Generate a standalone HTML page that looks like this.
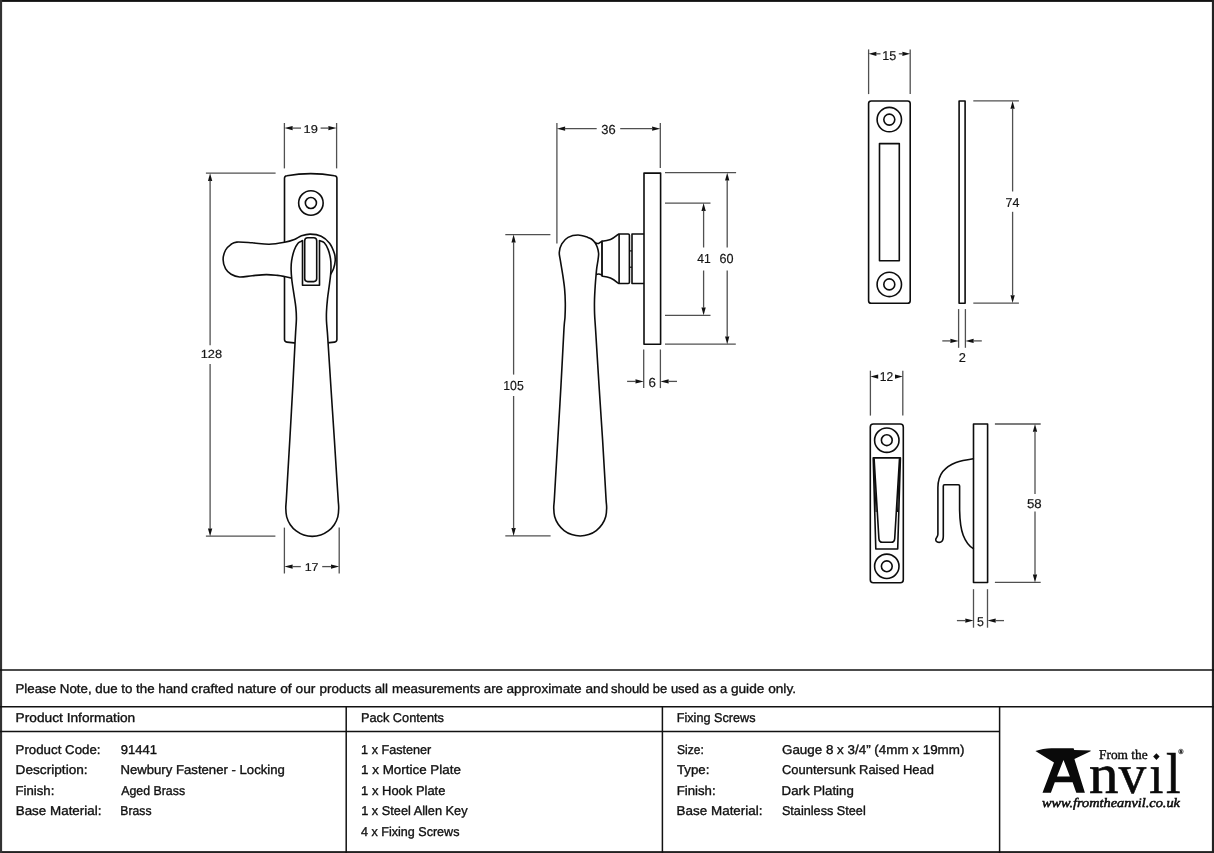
<!DOCTYPE html>
<html>
<head>
<meta charset="utf-8">
<title>Newbury Fastener - Locking</title>
<style>
html,body{margin:0;padding:0;background:#fff;}
body{width:1214px;height:853px;overflow:hidden;font-family:"Liberation Sans",sans-serif;}
svg{display:block;will-change:transform;}
text{white-space:pre;}
</style>
</head>
<body>
<svg width="1214" height="853" viewBox="0 0 1214 853" shape-rendering="geometricPrecision" text-rendering="geometricPrecision">
<rect x="0" y="0" width="1214" height="853" fill="#fff"/>
<rect x="0" y="0" width="1214" height="1.9" fill="#111"/>
<rect x="0" y="851.1" width="1214" height="1.9" fill="#222"/>
<rect x="0" y="0" width="2.1" height="853" fill="#333"/>
<rect x="1211.9" y="0" width="2.1" height="853" fill="#222"/>
<line x1="0" y1="670" x2="1214" y2="670" stroke="#111" stroke-width="1.5"/>
<line x1="0" y1="706.7" x2="1214" y2="706.7" stroke="#111" stroke-width="1.5"/>
<line x1="0" y1="731.4" x2="999.6" y2="731.4" stroke="#111" stroke-width="1.5"/>
<line x1="346.2" y1="706.7" x2="346.2" y2="853" stroke="#111" stroke-width="1.5"/>
<line x1="662.4" y1="706.7" x2="662.4" y2="853" stroke="#111" stroke-width="1.5"/>
<line x1="999.6" y1="706.7" x2="999.6" y2="853" stroke="#111" stroke-width="1.5"/>
<text class="t" x="15.4" y="693.3" textLength="172.56" lengthAdjust="spacingAndGlyphs" font-family="Liberation Sans" font-size="12.8" fill="#101010"  stroke="#101010" stroke-width="0.35">Please Note, due to the hand</text>
<text class="t" x="191.25" y="693.3" textLength="124.17" lengthAdjust="spacingAndGlyphs" font-family="Liberation Sans" font-size="12.8" fill="#101010"  stroke="#101010" stroke-width="0.35">crafted nature of our</text>
<text class="t" x="319.61" y="693.3" textLength="68.44" lengthAdjust="spacingAndGlyphs" font-family="Liberation Sans" font-size="12.8" fill="#101010"  stroke="#101010" stroke-width="0.35">products all</text>
<text class="t" x="392.07" y="693.3" textLength="110.96" lengthAdjust="spacingAndGlyphs" font-family="Liberation Sans" font-size="12.8" fill="#101010"  stroke="#101010" stroke-width="0.35">measurements are</text>
<text class="t" x="506.54" y="693.3" textLength="101.69" lengthAdjust="spacingAndGlyphs" font-family="Liberation Sans" font-size="12.8" fill="#101010"  stroke="#101010" stroke-width="0.35">approximate and</text>
<text class="t" x="610.95" y="693.3" textLength="116.29" lengthAdjust="spacingAndGlyphs" font-family="Liberation Sans" font-size="12.8" fill="#101010"  stroke="#101010" stroke-width="0.35">should be used as a</text>
<text class="t" x="730.91" y="693.3" textLength="65.09" lengthAdjust="spacingAndGlyphs" font-family="Liberation Sans" font-size="12.8" fill="#101010"  stroke="#101010" stroke-width="0.35">guide only.</text>
<text class="t" x="15.63" y="722.4" textLength="119.57" lengthAdjust="spacingAndGlyphs" font-family="Liberation Sans" font-size="12.8" fill="#101010"  stroke="#101010" stroke-width="0.35">Product Information</text>
<text class="t" x="360.89" y="722.4" textLength="83.1" lengthAdjust="spacingAndGlyphs" font-family="Liberation Sans" font-size="12.8" fill="#101010"  stroke="#101010" stroke-width="0.35">Pack Contents</text>
<text class="t" x="676.69" y="722.4" textLength="78.81" lengthAdjust="spacingAndGlyphs" font-family="Liberation Sans" font-size="12.8" fill="#101010"  stroke="#101010" stroke-width="0.35">Fixing Screws</text>
<text class="t" x="15.56" y="753.8" textLength="84.95" lengthAdjust="spacingAndGlyphs" font-family="Liberation Sans" font-size="12.8" fill="#101010"  stroke="#101010" stroke-width="0.35">Product Code:</text>
<text class="t" x="120.73" y="753.8" textLength="36.18" lengthAdjust="spacingAndGlyphs" font-family="Liberation Sans" font-size="12.8" fill="#101010"  stroke="#101010" stroke-width="0.35">91441</text>
<text class="t" x="15.62" y="774.3" textLength="72.06" lengthAdjust="spacingAndGlyphs" font-family="Liberation Sans" font-size="12.8" fill="#101010"  stroke="#101010" stroke-width="0.35">Description:</text>
<text class="t" x="120.44" y="774.3" textLength="164.44" lengthAdjust="spacingAndGlyphs" font-family="Liberation Sans" font-size="12.8" fill="#101010"  stroke="#101010" stroke-width="0.35">Newbury Fastener - Locking</text>
<text class="t" x="15.59" y="794.7" textLength="38.78" lengthAdjust="spacingAndGlyphs" font-family="Liberation Sans" font-size="12.8" fill="#101010"  stroke="#101010" stroke-width="0.35">Finish:</text>
<text class="t" x="121.2" y="794.7" textLength="63.87" lengthAdjust="spacingAndGlyphs" font-family="Liberation Sans" font-size="12.8" fill="#101010"  stroke="#101010" stroke-width="0.35">Aged Brass</text>
<text class="t" x="15.71" y="815.1" textLength="85.73" lengthAdjust="spacingAndGlyphs" font-family="Liberation Sans" font-size="12.8" fill="#101010"  stroke="#101010" stroke-width="0.35">Base Material:</text>
<text class="t" x="120.36" y="815.1" textLength="31.12" lengthAdjust="spacingAndGlyphs" font-family="Liberation Sans" font-size="12.8" fill="#101010"  stroke="#101010" stroke-width="0.35">Brass</text>
<text class="t" x="361.12" y="753.8" textLength="70.15" lengthAdjust="spacingAndGlyphs" font-family="Liberation Sans" font-size="12.8" fill="#101010"  stroke="#101010" stroke-width="0.35">1 x Fastener</text>
<text class="t" x="361.13" y="774.3" textLength="99.71" lengthAdjust="spacingAndGlyphs" font-family="Liberation Sans" font-size="12.8" fill="#101010"  stroke="#101010" stroke-width="0.35">1 x Mortice Plate</text>
<text class="t" x="361.14" y="794.7" textLength="84.32" lengthAdjust="spacingAndGlyphs" font-family="Liberation Sans" font-size="12.8" fill="#101010"  stroke="#101010" stroke-width="0.35">1 x Hook Plate</text>
<text class="t" x="361.16" y="815.1" textLength="106.42" lengthAdjust="spacingAndGlyphs" font-family="Liberation Sans" font-size="12.8" fill="#101010"  stroke="#101010" stroke-width="0.35">1 x Steel Allen Key</text>
<text class="t" x="360.97" y="835.5" textLength="98.51" lengthAdjust="spacingAndGlyphs" font-family="Liberation Sans" font-size="12.8" fill="#101010"  stroke="#101010" stroke-width="0.35">4 x Fixing Screws</text>
<text class="t" x="677.06" y="753.8" textLength="26.84" lengthAdjust="spacingAndGlyphs" font-family="Liberation Sans" font-size="12.8" fill="#101010"  stroke="#101010" stroke-width="0.35">Size:</text>
<text class="t" x="781.98" y="753.8" textLength="182.44" lengthAdjust="spacingAndGlyphs" font-family="Liberation Sans" font-size="12.8" fill="#101010"  stroke="#101010" stroke-width="0.35">Gauge 8 x 3/4&#8221; (4mm x 19mm)</text>
<text class="t" x="676.9" y="774.3" textLength="32.52" lengthAdjust="spacingAndGlyphs" font-family="Liberation Sans" font-size="12.8" fill="#101010"  stroke="#101010" stroke-width="0.35">Type:</text>
<text class="t" x="781.97" y="774.3" textLength="151.96" lengthAdjust="spacingAndGlyphs" font-family="Liberation Sans" font-size="12.8" fill="#101010"  stroke="#101010" stroke-width="0.35">Countersunk Raised Head</text>
<text class="t" x="676.71" y="794.7" textLength="38.94" lengthAdjust="spacingAndGlyphs" font-family="Liberation Sans" font-size="12.8" fill="#101010"  stroke="#101010" stroke-width="0.35">Finish:</text>
<text class="t" x="781.55" y="794.7" textLength="72.26" lengthAdjust="spacingAndGlyphs" font-family="Liberation Sans" font-size="12.8" fill="#101010"  stroke="#101010" stroke-width="0.35">Dark Plating</text>
<text class="t" x="676.61" y="815.1" textLength="85.88" lengthAdjust="spacingAndGlyphs" font-family="Liberation Sans" font-size="12.8" fill="#101010"  stroke="#101010" stroke-width="0.35">Base Material:</text>
<text class="t" x="781.88" y="815.1" textLength="83.87" lengthAdjust="spacingAndGlyphs" font-family="Liberation Sans" font-size="12.8" fill="#101010"  stroke="#101010" stroke-width="0.35">Stainless Steel</text>
<path d="M284.5,178.2 Q284.5,176.0 286.9,175.7 Q310.7,171.6 334.5,175.7 Q336.9,176.0 336.9,178.2 V339.6 Q336.9,341.8 334.5,342.1 Q310.7,345.4 286.9,342.1 Q284.5,341.8 284.5,339.6 Z" fill="#fff" stroke="#0d0d0d" stroke-width="1.6" stroke-linejoin="round" stroke-linecap="round"/>
<circle cx="310.9" cy="203.0" r="12.25" fill="none" stroke="#0d0d0d" stroke-width="1.6" stroke-linejoin="round" stroke-linecap="round"/>
<circle cx="310.9" cy="203.0" r="5.55" fill="none" stroke="#0d0d0d" stroke-width="1.6" stroke-linejoin="round" stroke-linecap="round"/>
<path d="M291.3,278C290.17,277.75 286.8,276.93 284.5,276.5C282.2,276.07 280.53,275.72 277.5,275.4C274.47,275.08 270.52,274.55 266.3,274.6C262.08,274.65 256.65,275.3 252.2,275.7C247.75,276.1 243.12,277.25 239.6,277C236.08,276.75 233.45,275.6 231.1,274.2C228.75,272.8 226.83,271.07 225.5,268.6C224.17,266.13 223.08,262.5 223.1,259.4C223.12,256.3 224.32,252.47 225.6,250C226.88,247.53 228.95,245.92 230.8,244.6C232.65,243.28 233.13,242.4 236.7,242.1C240.27,241.8 246.8,242.45 252.2,242.8C257.6,243.15 263.7,244.3 269.1,244.2C274.5,244.1 280.38,243 284.6,242.2C288.82,241.4 291.58,240.47 294.4,239.4C297.22,238.33 298.87,236.68 301.5,235.8C304.13,234.92 306.92,234.03 310.2,234.1C313.48,234.17 317.97,234.68 321.2,236.2C324.43,237.72 327.38,240.27 329.6,243.2C331.82,246.13 333.57,250.87 334.5,253.8C335.43,256.73 335.35,258.33 335.2,260.8C335.05,263.27 334.35,266.37 333.6,268.6C332.85,270.83 331.18,273.27 330.7,274.2Z" fill="#fff" stroke="none"/>
<path d="M291.3,278C290.17,277.75 286.8,276.93 284.5,276.5C282.2,276.07 280.53,275.72 277.5,275.4C274.47,275.08 270.52,274.55 266.3,274.6C262.08,274.65 256.65,275.3 252.2,275.7C247.75,276.1 243.12,277.25 239.6,277C236.08,276.75 233.45,275.6 231.1,274.2C228.75,272.8 226.83,271.07 225.5,268.6C224.17,266.13 223.08,262.5 223.1,259.4C223.12,256.3 224.32,252.47 225.6,250C226.88,247.53 228.95,245.92 230.8,244.6C232.65,243.28 233.13,242.4 236.7,242.1C240.27,241.8 246.8,242.45 252.2,242.8C257.6,243.15 263.7,244.3 269.1,244.2C274.5,244.1 280.38,243 284.6,242.2C288.82,241.4 291.58,240.47 294.4,239.4C297.22,238.33 298.87,236.68 301.5,235.8C304.13,234.92 306.92,234.03 310.2,234.1C313.48,234.17 317.97,234.68 321.2,236.2C324.43,237.72 327.38,240.27 329.6,243.2C331.82,246.13 333.57,250.87 334.5,253.8C335.43,256.73 335.35,258.33 335.2,260.8C335.05,263.27 334.35,266.37 333.6,268.6C332.85,270.83 331.18,273.27 330.7,274.2" fill="none" stroke="#0d0d0d" stroke-width="1.6" stroke-linejoin="round" stroke-linecap="round"/>
<path d="M302.3,240.8C301.58,241.2 299.35,241.62 298,243.2C296.65,244.78 295.27,247.37 294.2,250.3C293.13,253.23 292.12,257.63 291.6,260.8C291.08,263.97 291.05,266.02 291.1,269.3C291.15,272.58 291.42,276.28 291.9,280.5C292.38,284.72 293.35,290.15 294,294.6C294.65,299.05 295.4,303.22 295.8,307.2C296.2,311.18 296.43,314.27 296.4,318.5C296.37,322.73 295.83,328.43 295.6,332.6C295.37,336.77 295.5,333.93 295,343.5C294.5,353.07 293.47,373.92 292.6,390C291.73,406.08 290.66,425 289.8,440C288.94,455 288.03,470 287.45,480C286.87,490 286.58,495.28 286.3,500C286.02,504.72 285.73,505.51 285.8,508.33C285.86,511.14 285.94,514.15 286.69,516.88C287.43,519.61 288.69,522.36 290.27,524.7C291.85,527.05 293.92,529.25 296.17,530.96C298.42,532.68 301.08,534.1 303.76,535C306.44,535.91 309.42,536.4 312.25,536.4C315.08,536.4 318.06,535.91 320.74,535C323.42,534.1 326.08,532.68 328.33,530.96C330.58,529.25 332.65,527.05 334.23,524.7C335.81,522.36 337.07,519.61 337.81,516.88C338.56,514.15 338.64,511.14 338.7,508.33C338.77,505.51 338.5,504.72 338.2,500C337.9,495.28 337.53,490 336.9,480C336.27,470 335.37,455 334.4,440C333.43,425 332.15,406.13 331.1,390C330.05,373.87 328.72,352.77 328.1,343.2C327.48,333.63 327.67,336.25 327.4,332.6C327.13,328.95 326.65,324.82 326.5,321.3C326.35,317.78 326.33,315.25 326.5,311.5C326.67,307.75 327.05,303.03 327.5,298.8C327.95,294.57 328.68,290.08 329.2,286.1C329.72,282.12 330.3,278.18 330.6,274.9C330.9,271.62 331.02,269.1 331,266.4C330.98,263.7 330.97,261.5 330.5,258.7C330.03,255.9 329.23,252.25 328.2,249.6C327.17,246.95 325.72,244.27 324.3,242.8C322.88,241.33 320.47,241.13 319.7,240.8Z" fill="#fff" stroke="none"/>
<path d="M302.3,240.8C301.58,241.2 299.35,241.62 298,243.2C296.65,244.78 295.27,247.37 294.2,250.3C293.13,253.23 292.12,257.63 291.6,260.8C291.08,263.97 291.05,266.02 291.1,269.3C291.15,272.58 291.42,276.28 291.9,280.5C292.38,284.72 293.35,290.15 294,294.6C294.65,299.05 295.4,303.22 295.8,307.2C296.2,311.18 296.43,314.27 296.4,318.5C296.37,322.73 295.83,328.43 295.6,332.6C295.37,336.77 295.5,333.93 295,343.5C294.5,353.07 293.47,373.92 292.6,390C291.73,406.08 290.66,425 289.8,440C288.94,455 288.03,470 287.45,480C286.87,490 286.58,495.28 286.3,500C286.02,504.72 285.73,505.51 285.8,508.33C285.86,511.14 285.94,514.15 286.69,516.88C287.43,519.61 288.69,522.36 290.27,524.7C291.85,527.05 293.92,529.25 296.17,530.96C298.42,532.68 301.08,534.1 303.76,535C306.44,535.91 309.42,536.4 312.25,536.4C315.08,536.4 318.06,535.91 320.74,535C323.42,534.1 326.08,532.68 328.33,530.96C330.58,529.25 332.65,527.05 334.23,524.7C335.81,522.36 337.07,519.61 337.81,516.88C338.56,514.15 338.64,511.14 338.7,508.33C338.77,505.51 338.5,504.72 338.2,500C337.9,495.28 337.53,490 336.9,480C336.27,470 335.37,455 334.4,440C333.43,425 332.15,406.13 331.1,390C330.05,373.87 328.72,352.77 328.1,343.2C327.48,333.63 327.67,336.25 327.4,332.6C327.13,328.95 326.65,324.82 326.5,321.3C326.35,317.78 326.33,315.25 326.5,311.5C326.67,307.75 327.05,303.03 327.5,298.8C327.95,294.57 328.68,290.08 329.2,286.1C329.72,282.12 330.3,278.18 330.6,274.9C330.9,271.62 331.02,269.1 331,266.4C330.98,263.7 330.97,261.5 330.5,258.7C330.03,255.9 329.23,252.25 328.2,249.6C327.17,246.95 325.72,244.27 324.3,242.8C322.88,241.33 320.47,241.13 319.7,240.8" fill="none" stroke="#0d0d0d" stroke-width="1.6" stroke-linejoin="round" stroke-linecap="round"/>
<path d="M302.5,240.6 V285.2 H319.5 V240.6" fill="none" stroke="#0d0d0d" stroke-width="1.6" stroke-linejoin="round" stroke-linecap="round"/>
<rect x="304.7" y="237.7" width="12.0" height="43.9" rx="3" ry="3" fill="none" stroke="#0d0d0d" stroke-width="1.6" stroke-linejoin="round" stroke-linecap="round"/>
<line x1="284.4" y1="123" x2="284.4" y2="168.4" stroke="#505050" stroke-width="1.3"/>
<line x1="336.6" y1="123" x2="336.6" y2="168.4" stroke="#505050" stroke-width="1.3"/>
<polygon points="284.4,128.1 292.6,125.95 292.6,130.25" fill="#111"/>
<polygon points="336.6,128.1 328.4,130.25 328.4,125.95" fill="#111"/>
<line x1="292.1" y1="128.1" x2="301" y2="128.1" stroke="#505050" stroke-width="1.3"/>
<line x1="320.6" y1="128.1" x2="328.9" y2="128.1" stroke="#505050" stroke-width="1.3"/>
<text class="t" x="303.51" y="133.1" textLength="14.28" lengthAdjust="spacingAndGlyphs" font-family="Liberation Sans" font-size="11.4" fill="#151515"  stroke="#151515" stroke-width="0.18">19</text>
<line x1="284.4" y1="527.6" x2="284.4" y2="573.5" stroke="#505050" stroke-width="1.3"/>
<line x1="339.2" y1="527.6" x2="339.2" y2="573.5" stroke="#505050" stroke-width="1.3"/>
<polygon points="284.4,566.6 292.6,564.45 292.6,568.75" fill="#111"/>
<polygon points="339.2,566.6 331,568.75 331,564.45" fill="#111"/>
<line x1="292.1" y1="566.6" x2="300.8" y2="566.6" stroke="#505050" stroke-width="1.3"/>
<line x1="322.2" y1="566.6" x2="331.5" y2="566.6" stroke="#505050" stroke-width="1.3"/>
<text class="t" x="304.7" y="570.9" textLength="13.83" lengthAdjust="spacingAndGlyphs" font-family="Liberation Sans" font-size="11.4" fill="#151515"  stroke="#151515" stroke-width="0.18">17</text>
<line x1="205.9" y1="173.2" x2="275.6" y2="173.2" stroke="#505050" stroke-width="1.3"/>
<line x1="205.9" y1="536.2" x2="275.4" y2="536.2" stroke="#505050" stroke-width="1.3"/>
<polygon points="210.1,173.2 212.25,181 207.95,181" fill="#111"/>
<polygon points="210.1,536.2 207.95,528.4 212.25,528.4" fill="#111"/>
<line x1="210.1" y1="180.5" x2="210.1" y2="345.3" stroke="#505050" stroke-width="1.3"/>
<line x1="210.1" y1="363.9" x2="210.1" y2="528.9" stroke="#505050" stroke-width="1.3"/>
<text class="t" x="200.67" y="358.2" textLength="21.4" lengthAdjust="spacingAndGlyphs" font-family="Liberation Sans" font-size="11.7" fill="#151515"  stroke="#151515" stroke-width="0.18">128</text>
<path d="M594.9,242.5 Q597.0,243.9 598.7,243.4 L602.1,241.2 V275.9 L601.4,274.9 Q598.7,273.2 596.1,274.5 Z" fill="#fff" stroke="#0d0d0d" stroke-width="1.6" stroke-linejoin="round" stroke-linecap="round"/>
<path d="M578,235C574.72,235 570.8,235.93 568.1,237.4C565.4,238.87 563.27,241.33 561.8,243.8C560.33,246.27 559.53,249.38 559.3,252.2C559.07,255.02 559.87,257.18 560.4,260.7C560.93,264.22 561.8,268.62 562.5,273.3C563.2,277.98 564.13,283.87 564.6,288.8C565.07,293.73 565.23,298.2 565.3,302.9C565.37,307.6 565.23,312.48 565,317C564.77,321.52 564.57,318.67 563.9,330C563.23,341.33 562.02,366.67 561,385C559.98,403.33 558.72,424.17 557.8,440C556.88,455.83 556.03,470 555.45,480C554.87,490 554.58,495.35 554.3,500C554.02,504.65 553.69,505.18 553.75,507.93C553.8,510.68 553.89,513.75 554.64,516.48C555.38,519.21 556.64,521.96 558.22,524.3C559.8,526.65 561.87,528.85 564.12,530.56C566.37,532.28 569.03,533.7 571.71,534.6C574.39,535.51 577.37,536 580.2,536C583.03,536 586.01,535.51 588.69,534.6C591.37,533.7 594.03,532.28 596.28,530.56C598.53,528.85 600.6,526.65 602.18,524.3C603.76,521.96 605.02,519.21 605.76,516.48C606.51,513.75 606.6,510.68 606.65,507.93C606.71,505.18 606.38,504.65 606.1,500C605.82,495.35 605.53,490 604.95,480C604.37,470 603.59,455.83 602.6,440C601.61,424.17 600.17,403.33 599,385C597.83,366.67 596.33,341.82 595.6,330C594.87,318.18 594.78,319.08 594.6,314.1C594.42,309.12 594.4,304.78 594.5,300.1C594.6,295.42 594.93,290.27 595.2,286C595.47,281.73 595.83,277.55 596.1,274.5C596.37,271.45 596.47,270.23 596.8,267.7C597.13,265.17 597.8,261.72 598.1,259.3C598.4,256.88 598.75,255.23 598.6,253.2C598.45,251.17 597.82,248.88 597.2,247.1C596.58,245.32 595.87,243.85 594.9,242.5C593.93,241.15 592.58,239.85 591.4,239C590.22,238.15 590.03,238.07 587.8,237.4C585.57,236.73 581.28,235 578,235Z" fill="#fff" stroke="#0d0d0d" stroke-width="1.6" stroke-linejoin="round" stroke-linecap="round"/>
<path d="M602.1,241.2 C605,240.9 607.9,240.4 610.5,239.4 C613.6,238.2 616,236 617.8,234.6 L618.9,234.0 H628.2 Q629.4,234.0 629.4,235.2 V282.3 Q629.4,283.5 628.2,283.5 H618.9 L617.8,282.9 C616,281.4 613.6,279.3 610.5,278.0 C607.9,277.0 605,276.5 602.9,276.2 L602.1,275.7 Z" fill="#fff" stroke="#0d0d0d" stroke-width="1.6" stroke-linejoin="round" stroke-linecap="round"/>
<line x1="619.1" y1="234" x2="619.1" y2="283.5" stroke="#0d0d0d" stroke-width="1.6"/>
<path d="M644.0,234.0 H632.0 V283.5 H644.0" fill="#fff" stroke="#0d0d0d" stroke-width="1.6" stroke-linejoin="round" stroke-linecap="round"/>
<rect x="644.0" y="173.1" width="16.6" height="171.2" fill="#fff" stroke="#0d0d0d" stroke-width="1.6" stroke-linejoin="round" stroke-linecap="round"/>
<line x1="629.4" y1="250.9" x2="632" y2="250.9" stroke="#0d0d0d" stroke-width="1.2"/>
<line x1="629.4" y1="267.2" x2="632" y2="267.2" stroke="#0d0d0d" stroke-width="1.2"/>
<line x1="556.9" y1="123" x2="556.9" y2="243.4" stroke="#505050" stroke-width="1.3"/>
<line x1="660.3" y1="123" x2="660.3" y2="168" stroke="#505050" stroke-width="1.3"/>
<polygon points="556.9,128.7 565.1,126.55 565.1,130.85" fill="#111"/>
<polygon points="660.3,128.7 652.1,130.85 652.1,126.55" fill="#111"/>
<line x1="564.6" y1="128.7" x2="596.7" y2="128.7" stroke="#505050" stroke-width="1.3"/>
<line x1="620.2" y1="128.7" x2="652.6" y2="128.7" stroke="#505050" stroke-width="1.3"/>
<text class="t" x="601.32" y="133.8" textLength="14.41" lengthAdjust="spacingAndGlyphs" font-family="Liberation Sans" font-size="13.1" fill="#151515"  stroke="#151515" stroke-width="0.18">36</text>
<line x1="505.3" y1="234.6" x2="550.4" y2="234.6" stroke="#505050" stroke-width="1.3"/>
<line x1="505.3" y1="535.9" x2="550.6" y2="535.9" stroke="#505050" stroke-width="1.3"/>
<polygon points="513.6,234.6 515.75,242.4 511.45,242.4" fill="#111"/>
<polygon points="513.6,535.9 511.45,528.1 515.75,528.1" fill="#111"/>
<line x1="513.6" y1="241.9" x2="513.6" y2="374.6" stroke="#505050" stroke-width="1.3"/>
<line x1="513.6" y1="396" x2="513.6" y2="528.6" stroke="#505050" stroke-width="1.3"/>
<text class="t" x="503.29" y="389.7" textLength="20.5" lengthAdjust="spacingAndGlyphs" font-family="Liberation Sans" font-size="13.1" fill="#151515"  stroke="#151515" stroke-width="0.18">105</text>
<line x1="665" y1="172.7" x2="736.1" y2="172.7" stroke="#505050" stroke-width="1.3"/>
<line x1="665" y1="344.2" x2="735.8" y2="344.2" stroke="#505050" stroke-width="1.3"/>
<line x1="665" y1="203.1" x2="710.5" y2="203.1" stroke="#505050" stroke-width="1.3"/>
<line x1="665" y1="315.3" x2="710.5" y2="315.3" stroke="#505050" stroke-width="1.3"/>
<polygon points="703.6,203.1 705.75,210.9 701.45,210.9" fill="#111"/>
<polygon points="703.6,315.3 701.45,307.5 705.75,307.5" fill="#111"/>
<line x1="703.6" y1="210.4" x2="703.6" y2="247.5" stroke="#505050" stroke-width="1.3"/>
<line x1="703.6" y1="270.5" x2="703.6" y2="308" stroke="#505050" stroke-width="1.3"/>
<polygon points="727.2,172.7 729.35,180.5 725.05,180.5" fill="#111"/>
<polygon points="727.2,344.2 725.05,336.4 729.35,336.4" fill="#111"/>
<line x1="727.2" y1="180" x2="727.2" y2="247.5" stroke="#505050" stroke-width="1.3"/>
<line x1="727.2" y1="270.5" x2="727.2" y2="336.9" stroke="#505050" stroke-width="1.3"/>
<text class="t" x="697.27" y="262.6" textLength="13.48" lengthAdjust="spacingAndGlyphs" font-family="Liberation Sans" font-size="13.1" fill="#151515"  stroke="#151515" stroke-width="0.18">41</text>
<text class="t" x="719.47" y="262.6" textLength="14.06" lengthAdjust="spacingAndGlyphs" font-family="Liberation Sans" font-size="13.1" fill="#151515"  stroke="#151515" stroke-width="0.18">60</text>
<line x1="643.7" y1="349.5" x2="643.7" y2="388.1" stroke="#505050" stroke-width="1.3"/>
<line x1="660.4" y1="349.5" x2="660.4" y2="388.1" stroke="#505050" stroke-width="1.3"/>
<polygon points="643.7,381.4 635.5,383.55 635.5,379.25" fill="#111"/>
<polygon points="660.4,381.4 668.6,379.25 668.6,383.55" fill="#111"/>
<line x1="627.1" y1="381.4" x2="636" y2="381.4" stroke="#505050" stroke-width="1.3"/>
<line x1="668.1" y1="381.4" x2="677" y2="381.4" stroke="#505050" stroke-width="1.3"/>
<text class="t" x="648.45" y="386.7" textLength="7.45" lengthAdjust="spacingAndGlyphs" font-family="Liberation Sans" font-size="13.1" fill="#151515"  stroke="#151515" stroke-width="0.18">6</text>
<rect x="868.6" y="101.0" width="41.6" height="202.3" rx="2.6" ry="2.6" fill="#fff" stroke="#0d0d0d" stroke-width="1.6" stroke-linejoin="round" stroke-linecap="round"/>
<circle cx="889.3" cy="119.6" r="12.2" fill="none" stroke="#0d0d0d" stroke-width="1.6" stroke-linejoin="round" stroke-linecap="round"/>
<circle cx="889.3" cy="119.6" r="5.5" fill="none" stroke="#0d0d0d" stroke-width="1.6" stroke-linejoin="round" stroke-linecap="round"/>
<circle cx="889.3" cy="284.4" r="12.2" fill="none" stroke="#0d0d0d" stroke-width="1.6" stroke-linejoin="round" stroke-linecap="round"/>
<circle cx="889.3" cy="284.4" r="5.5" fill="none" stroke="#0d0d0d" stroke-width="1.6" stroke-linejoin="round" stroke-linecap="round"/>
<rect x="879.5" y="143.6" width="19.8" height="117.2" fill="none" stroke="#0d0d0d" stroke-width="1.6" stroke-linejoin="round" stroke-linecap="round"/>
<rect x="959.1" y="101.0" width="6.0" height="202.3" fill="#fff" stroke="#0d0d0d" stroke-width="1.6" stroke-linejoin="round" stroke-linecap="round"/>
<line x1="868.6" y1="49.4" x2="868.6" y2="94.1" stroke="#505050" stroke-width="1.3"/>
<line x1="910.2" y1="49.4" x2="910.2" y2="94.1" stroke="#505050" stroke-width="1.3"/>
<polygon points="868.6,53.8 876.4,51.65 876.4,55.95" fill="#111"/>
<polygon points="910.2,53.8 902.4,55.95 902.4,51.65" fill="#111"/>
<line x1="875.9" y1="53.8" x2="880.5" y2="53.8" stroke="#505050" stroke-width="1.3"/>
<line x1="898.8" y1="53.8" x2="902.9" y2="53.8" stroke="#505050" stroke-width="1.3"/>
<text class="t" x="882.21" y="59.7" textLength="14.03" lengthAdjust="spacingAndGlyphs" font-family="Liberation Sans" font-size="12.9" fill="#151515"  stroke="#151515" stroke-width="0.18">15</text>
<line x1="973.3" y1="100.9" x2="1018.9" y2="100.9" stroke="#505050" stroke-width="1.3"/>
<line x1="973.3" y1="303.1" x2="1018.9" y2="303.1" stroke="#505050" stroke-width="1.3"/>
<polygon points="1012.6,100.9 1014.75,108.7 1010.45,108.7" fill="#111"/>
<polygon points="1012.6,303.1 1010.45,295.3 1014.75,295.3" fill="#111"/>
<line x1="1012.6" y1="108.2" x2="1012.6" y2="191.5" stroke="#505050" stroke-width="1.3"/>
<line x1="1012.6" y1="211.8" x2="1012.6" y2="295.8" stroke="#505050" stroke-width="1.3"/>
<text class="t" x="1005.46" y="206.9" textLength="13.87" lengthAdjust="spacingAndGlyphs" font-family="Liberation Sans" font-size="12.9" fill="#151515"  stroke="#151515" stroke-width="0.18">74</text>
<line x1="958.6" y1="309.1" x2="958.6" y2="347.8" stroke="#505050" stroke-width="1.3"/>
<line x1="965.4" y1="309.1" x2="965.4" y2="347.8" stroke="#505050" stroke-width="1.3"/>
<polygon points="958.6,340.9 950.4,343.05 950.4,338.75" fill="#111"/>
<polygon points="965.4,340.9 973.6,338.75 973.6,343.05" fill="#111"/>
<line x1="942.3" y1="340.9" x2="950.9" y2="340.9" stroke="#505050" stroke-width="1.3"/>
<line x1="973.1" y1="340.9" x2="981.8" y2="340.9" stroke="#505050" stroke-width="1.3"/>
<text class="t" x="958.71" y="361.6" textLength="7.14" lengthAdjust="spacingAndGlyphs" font-family="Liberation Sans" font-size="12.9" fill="#151515"  stroke="#151515" stroke-width="0.18">2</text>
<rect x="870.3" y="424.0" width="33.0" height="158.7" rx="3" ry="3" fill="#fff" stroke="#0d0d0d" stroke-width="1.6" stroke-linejoin="round" stroke-linecap="round"/>
<circle cx="886.8" cy="440.2" r="12.2" fill="none" stroke="#0d0d0d" stroke-width="1.6" stroke-linejoin="round" stroke-linecap="round"/>
<circle cx="886.8" cy="440.2" r="5.4" fill="none" stroke="#0d0d0d" stroke-width="1.6" stroke-linejoin="round" stroke-linecap="round"/>
<circle cx="886.8" cy="566.3" r="12.2" fill="none" stroke="#0d0d0d" stroke-width="1.6" stroke-linejoin="round" stroke-linecap="round"/>
<circle cx="886.8" cy="566.3" r="5.4" fill="none" stroke="#0d0d0d" stroke-width="1.6" stroke-linejoin="round" stroke-linecap="round"/>
<path d="M873.2,457.9 H900.4 L897.7,549.0 H875.8 Z" fill="none" stroke="#0d0d0d" stroke-width="1.6" stroke-linejoin="round" stroke-linecap="round"/>
<path d="M874.1,458.8 L878.9,538.6 Q879.2,542.3 882.4,542.3 H891.2 Q894.4,542.3 894.7,538.6 L899.5,458.8" fill="none" stroke="#0d0d0d" stroke-width="1.6" stroke-linejoin="round" stroke-linecap="round"/>
<path d="M873.6,458.6 L876.1,512 M900.0,458.6 L897.5,512" fill="none" stroke="#0d0d0d" stroke-width="1.1"/>
<rect x="973.5" y="424.0" width="14.1" height="158.5" fill="#fff" stroke="#0d0d0d" stroke-width="1.6" stroke-linejoin="round" stroke-linecap="round"/>
<path d="M973.3,458.7 C966,459.8 960,461.0 956.0,462.4 C950.5,464.4 946.0,467.6 942.8,471.6 C939.4,476.0 938.0,481.5 937.9,487.5 V534.3 C937.9,537.2 935.6,537.6 935.7,539.8 C935.8,542.0 938.4,542.6 940.2,542.2 C942.6,541.7 943.3,539.6 943.3,536.2 V485.9 Q943.3,484.7 944.5,484.7 H958.4 Q959.6,484.7 959.6,485.9 V510.0 C959.8,520.0 960.6,528.5 963.2,535.2 C965.6,541.4 968.8,546.0 973.3,548.6" fill="none" stroke="#0d0d0d" stroke-width="1.6" stroke-linejoin="round" stroke-linecap="round"/>
<line x1="870.4" y1="370.7" x2="870.4" y2="415.6" stroke="#505050" stroke-width="1.3"/>
<line x1="902.8" y1="370.7" x2="902.8" y2="415.6" stroke="#505050" stroke-width="1.3"/>
<polygon points="870.4,376.6 878.2,374.45 878.2,378.75" fill="#111"/>
<polygon points="902.8,376.6 895,378.75 895,374.45" fill="#111"/>
<text class="t" x="879.73" y="381.3" textLength="13.47" lengthAdjust="spacingAndGlyphs" font-family="Liberation Sans" font-size="12.9" fill="#151515"  stroke="#151515" stroke-width="0.18">12</text>
<line x1="994.9" y1="424" x2="1040.7" y2="424" stroke="#505050" stroke-width="1.3"/>
<line x1="994.9" y1="582.4" x2="1040.7" y2="582.4" stroke="#505050" stroke-width="1.3"/>
<polygon points="1035,424 1037.15,431.8 1032.85,431.8" fill="#111"/>
<polygon points="1035,582.4 1032.85,574.6 1037.15,574.6" fill="#111"/>
<line x1="1035" y1="431.3" x2="1035" y2="494.1" stroke="#505050" stroke-width="1.3"/>
<line x1="1035" y1="511.4" x2="1035" y2="575.1" stroke="#505050" stroke-width="1.3"/>
<text class="t" x="1026.99" y="507.6" textLength="14.72" lengthAdjust="spacingAndGlyphs" font-family="Liberation Sans" font-size="12.9" fill="#151515"  stroke="#151515" stroke-width="0.18">58</text>
<line x1="973.5" y1="589.2" x2="973.5" y2="627.7" stroke="#505050" stroke-width="1.3"/>
<line x1="987.5" y1="589.2" x2="987.5" y2="627.7" stroke="#505050" stroke-width="1.3"/>
<polygon points="973.5,620.6 965.3,622.75 965.3,618.45" fill="#111"/>
<polygon points="987.5,620.6 995.7,618.45 995.7,622.75" fill="#111"/>
<line x1="956.9" y1="620.6" x2="965.8" y2="620.6" stroke="#505050" stroke-width="1.3"/>
<line x1="995.2" y1="620.6" x2="1004" y2="620.6" stroke="#505050" stroke-width="1.3"/>
<text class="t" x="977.1" y="625.8" textLength="6.89" lengthAdjust="spacingAndGlyphs" font-family="Liberation Sans" font-size="12.9" fill="#151515"  stroke="#151515" stroke-width="0.18">5</text>
<path d="M1035.4,751.0 C1040,749.4 1046,748.5 1051.4,748.3 H1073.6 L1074.2,750.0 L1090.7,750.4 L1090.6,751.2 L1074.4,759.0 L1084.9,792.8 H1076.3 L1072.6,782.2 H1054.8 L1050.9,792.8 H1042.5 L1054.0,762.4 Z M1063.5,759.9 L1057.0,776.5 H1069.9 Z" fill="#0a0a0a" fill-rule="evenodd"/>
<text transform="translate(1088.95,792.7) scale(1.0532,1)" font-family="Liberation Serif" font-size="56" fill="#0a0a0a" stroke="#0a0a0a" stroke-width="0.6">n</text>
<text transform="translate(1118.87,792.7) scale(0.9774,1)" font-family="Liberation Serif" font-size="56" fill="#0a0a0a" stroke="#0a0a0a" stroke-width="0.6">v</text>
<text transform="translate(1149.29,792.7) scale(0.9071,1)" font-family="Liberation Serif" font-size="56" fill="#0a0a0a" stroke="#0a0a0a" stroke-width="0.6">&#305;</text>
<text transform="translate(1166.06,792.7) scale(0.9357,1.03)" font-family="Liberation Serif" font-size="56" fill="#0a0a0a" stroke="#0a0a0a" stroke-width="0.6">l</text>
<text class="t" x="1099.04" y="759.4" textLength="48.66" lengthAdjust="spacingAndGlyphs" font-family="Liberation Serif" font-size="13.4" fill="#0a0a0a"  stroke="#0a0a0a" stroke-width="0.35">From the</text>
<polygon points="1156.4,753.3 1159.6,756.6 1156.4,759.9 1153.2,756.6" fill="#0a0a0a"/>
<circle cx="1180.9" cy="751.5" r="2.3" fill="none" stroke="#0a0a0a" stroke-width="0.6"/>
<text class="t" x="1179.7" y="752.8" textLength="2.5" lengthAdjust="spacingAndGlyphs" font-family="Liberation Sans" font-size="3.6" fill="#0a0a0a" font-weight="bold" stroke="#0a0a0a" stroke-width="0.35">R</text>
<text class="t" x="1041.95" y="807.3" textLength="137.97" lengthAdjust="spacingAndGlyphs" font-family="Liberation Serif" font-size="13" fill="#0a0a0a" font-style="italic" stroke="#0a0a0a" stroke-width="0.5">www.fromtheanvil.co.uk</text>
</svg>
</body>
</html>
